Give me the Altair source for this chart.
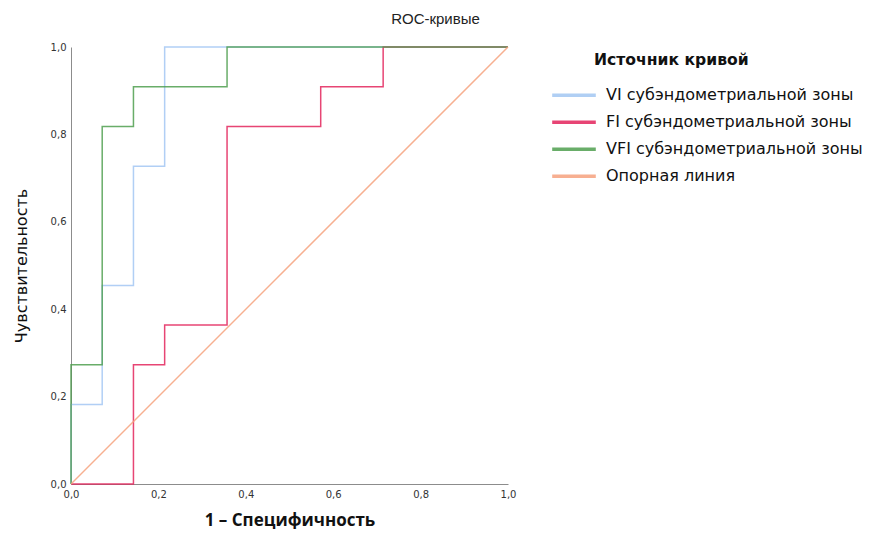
import altair as alt
import pandas as pd

series_names = ["VI субэндометриальной зоны", "FI субэндометриальной зоны",
                "VFI субэндометриальной зоны", "Опорная линия"]
colors = ["#a3c7f3", "#e3245c", "#4f9f4f", "#f6a27e"]
legend_title = ["Источник кривой"]

vi_x = [0, 0, 0.0714, 0.0714, 0.1429, 0.1429, 0.2143, 0.2143, 1.0]
vi_y = [0, 0.1818, 0.1818, 0.4545, 0.4545, 0.7273, 0.7273, 1.0, 1.0]

fi_x = [0, 0.1429, 0.1429, 0.2143, 0.2143, 0.3571, 0.3571, 0.5714, 0.5714, 0.7143, 0.7143, 1.0]
fi_y = [0, 0, 0.2727, 0.2727, 0.3636, 0.3636, 0.8182, 0.8182, 0.9091, 0.9091, 1.0, 1.0]

vfi_x = [0, 0, 0.0714, 0.0714, 0.1429, 0.1429, 0.3571, 0.3571, 1.0]
vfi_y = [0, 0.2727, 0.2727, 0.8182, 0.8182, 0.9091, 0.9091, 1.0, 1.0]

ref_x = [0, 1.0]
ref_y = [0, 1.0]

rows = []
for name, xs, ys in zip(series_names, [vi_x, fi_x, vfi_x, ref_x], [vi_y, fi_y, vfi_y, ref_y]):
    for i, (a, b) in enumerate(zip(xs, ys)):
        rows.append({"series": name, "x": a, "y": b, "i": i})
df = pd.DataFrame(rows)

label_expr = "replace(format(datum.value, '.1f'), '.', ',')"
tick_vals = [0, 0.2, 0.4, 0.6, 0.8, 1.0]

lines = alt.Chart(df).mark_line(strokeWidth=1.5, opacity=0.85).encode(
    x=alt.X("x:Q", scale=alt.Scale(domain=[0, 1], nice=False),
            axis=alt.Axis(title="1 – Специфичность", values=tick_vals,
                          labelExpr=label_expr, ticks=False, grid=False, labelFlush=False,
                          domainColor="#8c8c8c", labelFont="DejaVu Sans", labelFontSize=10,
                          labelColor="#333333", labelPadding=5,
                          titleFont="Open Sans", titleFontSize=17, titleFontWeight="bold",
                          titleColor="#111111", titlePadding=13)),
    y=alt.Y("y:Q", scale=alt.Scale(domain=[0, 1], nice=False),
            axis=alt.Axis(title="Чувствительность", values=tick_vals,
                          labelExpr=label_expr, ticks=False, grid=False, labelFlush=False,
                          domainColor="#8c8c8c", labelFont="DejaVu Sans", labelFontSize=10,
                          labelColor="#333333", labelPadding=5,
                          titleFont="DejaVu Sans", titleFontSize=16, titleFontWeight="normal",
                          titleColor="#111111", titlePadding=21)),
    color=alt.Color("series:N",
                    scale=alt.Scale(domain=series_names, range=colors),
                    legend=alt.Legend(
                        title=None,
                        orient="none", legendX=479, legendY=35,
                        symbolType="stroke", symbolSize=1900, symbolStrokeWidth=3.5,
                        clipHeight=26.7,
                        labelFont="DejaVu Sans", labelFontSize=16, labelColor="#111111",
                        labelLimit=400, labelOffset=8, rowPadding=0)),
    order="i:Q",
)

legend_head = alt.Chart(pd.DataFrame({"t": legend_title})).mark_text(
    font="DejaVu Sans", fontSize=15.6, fontWeight="bold", color="#111111",
    align="left", baseline="middle"
).encode(text="t:N", x=alt.value(523), y=alt.value(13))

chart = alt.layer(lines, legend_head).properties(
    width=437, height=437,
    title=alt.TitleParams("ROC-кривые", font="Liberation Sans", fontSize=15,
                          fontWeight="normal", color="#222222", anchor="middle",
                          dx=146, offset=15),
    autosize=alt.AutoSizeParams(type="none"),
    padding={"left": 63, "top": 39, "right": 359, "bottom": 45},
).configure_view(stroke=None)

chart.save("out.html", embed_options={"renderer": "svg", "actions": False})
